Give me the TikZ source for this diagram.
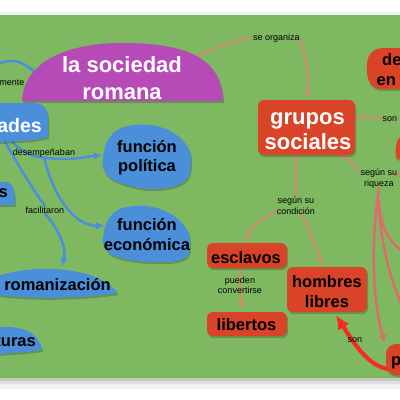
\documentclass[tikz,border=0pt]{standalone}
\usepackage{fontspec}
\setmainfont{Liberation Sans}
\usetikzlibrary{arrows.meta,calc}
\pgfdeclarelayer{back}\pgfdeclarelayer{lines}\pgfsetlayers{back,lines,main}
\definecolor{cgreen}{RGB}{126,185,98}
\definecolor{cblue}{RGB}{75,143,219}
\definecolor{cmag}{RGB}{182,74,182}
\definecolor{cred}{RGB}{217,68,40}
\definecolor{ctan}{RGB}{205,138,108}
\definecolor{cpink}{RGB}{225,105,110}
\definecolor{cbright}{RGB}{250,40,30}
\tikzset{
  shad/.style={preaction={fill=black,fill opacity=.2,transform canvas={xshift=1pt,yshift=-2pt}}},
  blob/.style={fill=cblue,shad},
  redshape/.style={fill=cred,shad},
  redbox/.style={fill=cred,shad,rounded corners=6pt,inner sep=0pt},
  bt/.style={font=\bfseries\fontsize{16.5}{20}\selectfont,text=black,inner sep=0pt},
  wt/.style={font=\bfseries\fontsize{22}{26}\selectfont,text=white,inner sep=0pt},
  lab/.style={font=\fontsize{9}{11}\selectfont,text=black,inner sep=0.5pt},
  bln/.style={draw=cblue,line width=2.5pt,line cap=round},
  blarr/.style={bln,-{Latex[length=8pt,width=8pt]}},
  tnln/.style={draw=ctan,line width=2.2pt,line cap=round},
  tnarr/.style={tnln,-{Latex[length=8pt,width=7.5pt]}},
  pkln/.style={draw=cpink,line width=2.4pt,line cap=round},
  pkarr/.style={pkln,-{Latex[length=8pt,width=7.5pt]}},
  rdarr/.style={draw=cbright,line width=4pt,-{Latex[length=14pt,width=13pt]}}
}
\begin{document}
\begin{tikzpicture}[x=1pt,y=-1pt]
\useasboundingbox (0,0) rectangle (400,400);
\clip (0,0) rectangle (400,400);
\begin{pgfonlayer}{back}
\fill[white] (0,0) rectangle (400,400);
\fill[black!6] (0,12) rectangle (400,15);
\fill[black!22] (0,378) rectangle (400,381);
\fill[black!12] (0,381) rectangle (400,384);
\fill[black!5] (0,384) rectangle (400,389);
\fill[cgreen] (0,15) rectangle (400,378);
\end{pgfonlayer}

% ---- shapes and texts
\fill[cmag,shad] (22,101) .. controls (24,60) and (70,43) .. (122,43) .. controls (190,43) and (222,60) .. (223,101) -- cycle;
\node[wt,anchor=base] (soc1) at (122,72) {la sociedad};
\node[wt,anchor=base] (soc2) at (122,99.5) {romana};
\coordinate (socR) at (192,58);
\coordinate (socL) at (42,80);

\node[redbox,minimum width=97pt,minimum height=55pt] (grp) at (306.5,127.5) {};
\node[wt,anchor=base] (grp1) at (307.5,124) {grupos};
\node[wt,anchor=base] (grp2) at (308,149) {sociales};

\fill[redshape] (404,48) -- (382,48) .. controls (370,49) and (366,58) .. (367,70) .. controls (367,82) and (372,89) .. (382,89) -- (404,89) -- cycle;
\node[bt,anchor=base west] (de) at (382,65) {de};
\node[bt,anchor=base west] (en) at (376.5,85) {en};
\fill[redshape] (404,137) -- (400,137) .. controls (396,140) and (395,150) .. (396,158) -- (404,160) -- cycle;
\coordinate (rnode) at (404,120);

% blue
\fill[blob] (-2,103) -- (35,103) .. controls (45,104) and (48,110) .. (48,120) -- (48,137) .. controls (40,140) and (20,141) .. (-2,142) -- cycle;
\node[font=\bfseries\fontsize{19.5}{22}\selectfont,text=white,inner sep=0pt,anchor=base east] (ades) at (42,132) {ades};
\coordinate (adesS) at (10,138);
\coordinate (adesS2) at (4,140);
\fill[blob] (-2,182) -- (8,182) .. controls (13,184) and (15,190) .. (15,205) -- (-2,205) -- cycle;
\node[bt,anchor=base east] (s) at (8,197) {s};

\fill[blob] plot[smooth cycle,tension=0.7] coordinates {(103,158) (110,137) (128,126) (160,127) (185,143) (191,165) (182,183) (150,189) (118,182) (105,172)};
\node[bt,anchor=base] (pol1) at (147,152) {función};
\node[bt,anchor=base] (pol2) at (147,171) {política};
\coordinate (polW) at (102,155);

\fill[blob] plot[smooth cycle,tension=0.7] coordinates {(103,237) (110,217) (127,207) (157,208) (182,223) (190,243) (183,259) (150,262) (117,257) (105,248)};
\node[bt,anchor=base] (eco1) at (147,230) {función};
\node[bt,anchor=base] (eco2) at (147,250) {económica};
\coordinate (ecoW) at (104,226);

\fill[blob] (-2,276) .. controls (30,265) and (95,264) .. (118,293) .. controls (80,299) and (30,299) .. (-2,295) -- cycle;
\node[bt,anchor=base] (rom) at (57.5,290) {romanización};
\coordinate (romN) at (62,266);

\fill[blob] (-2,327) .. controls (20,326) and (38,330) .. (42,350) .. controls (30,352) and (10,353) .. (-2,354) -- cycle;
\node[bt,anchor=base east] (tur) at (36,346) {turas};

% red boxes
\node[redbox,minimum width=80pt,minimum height=25pt] (esc) at (247,255.5) {};
\node[bt,anchor=base] (esct) at (246,263) {esclavos};
\node[redbox,minimum width=80pt,minimum height=24pt] (lib) at (247,324) {};
\node[bt,anchor=base] (libt) at (246.5,330) {libertos};
\node[redbox,minimum width=80pt,minimum height=45pt] (hom) at (327,289.5) {};
\node[bt,anchor=base] (hom1) at (327,287) {hombres};
\node[bt,anchor=base] (hom2) at (327,307) {libres};
\node[redbox,rounded corners=10pt,minimum width=36pt,minimum height=31pt] (pn) at (404,359.5) {};
\node[bt,anchor=base west] (pt) at (391,365) {p};

% labels
\node[lab,anchor=base] (lorg) at (276.5,40) {se organiza};
\node[lab,anchor=base east] (lmen) at (25,85) {mente};
\node[lab,anchor=base] (ldes) at (44,155) {desempeñaban};
\node[lab,anchor=base] (lfac) at (45,213) {facilitaron};
\node[lab,anchor=base] (lson1) at (390,121) {son};
\node[lab,anchor=base] (lriq1) at (379,175) {según su};
\node[lab,anchor=base] (lriq2) at (379,186) {riqueza};
\node[lab,anchor=base] (lcon1) at (296,203) {según su};
\node[lab,anchor=base] (lcon2) at (296,214) {condición};
\node[lab,anchor=base] (lpue1) at (240,283) {pueden};
\node[lab,anchor=base] (lpue2) at (240,293) {convertirse};
\node[lab,anchor=base] (lson2) at (355,342) {son};

% ---- connectors
\begin{pgfonlayer}{lines}
\draw[bln] (-3,65) .. controls (10,57) and (26,60) .. (socL);
\draw[bln] (adesS) .. controls (14,147) and (30,157) .. (ldes.south);
\draw[blarr] (ldes.south) .. controls (70,161) and (85,157) .. (polW);
\draw[blarr] (ldes.south) .. controls (52,190) and (70,225) .. (ecoW);
\draw[bln] (adesS2) .. controls (20,168) and (33,190) .. (lfac.north);
\draw[blarr] (lfac.south) .. controls (58,228) and (67,248) .. (romN);

\draw[tnln] (socR) .. controls (215,47) and (238,40) .. (lorg.west);
\draw[tnarr] ($(lorg.east)+(-4,-1)$) .. controls (306,48) and (309,75) .. ($(grp.north)+(1.5,-1)$);
\draw[tnln] ($(grp.east)+(-2,-9.5)$) .. controls (366,116) and (376,118) .. (lson1.west);
\draw[tnln] (lson1.east) -- (rnode);
\draw[tnln] ($(grp.south east)+(-18,-1)$) .. controls (350,160) and (356,165) .. (lriq1.west);
\draw[tnln] (lriq1.east) -- (404,180);
\draw[tnln] ($(grp.south)+(-10,0)$) .. controls (295,170) and (296,185) .. (lcon1.north);
\draw[tnarr] (lcon2.west) .. controls (262,218) and (250,228) .. ($(esc.north)+(0,-1)$);
\draw[tnarr] ($(lcon2.south east)+(-14,0)$) .. controls (310,232) and (318,250) .. ($(hom.north)+(-5,-1)$);
\draw[tnarr] ($(esc.south)+(-7,0)$) .. controls (240,285) and (241,300) .. ($(lib.north)+(-5,-2)$);

\draw[pkarr] (lriq2.south) .. controls (371,240) and (372,300) .. ($(pn.north west)+(-1,-1)$);
\draw[pkln] ($(lriq2.south)+(0,12)$) .. controls (380,230) and (392,245) .. (404,252);
\draw[pkln] ($(lriq2.south)+(0,20)$) .. controls (382,250) and (392,285) .. (404,310);
\draw[rdarr] ($(pn.south west)+(10,-6)$) .. controls (372,372) and (355,345) .. ($(hom.south)+(9,3)$);
\end{pgfonlayer}
\end{tikzpicture}
\end{document}
